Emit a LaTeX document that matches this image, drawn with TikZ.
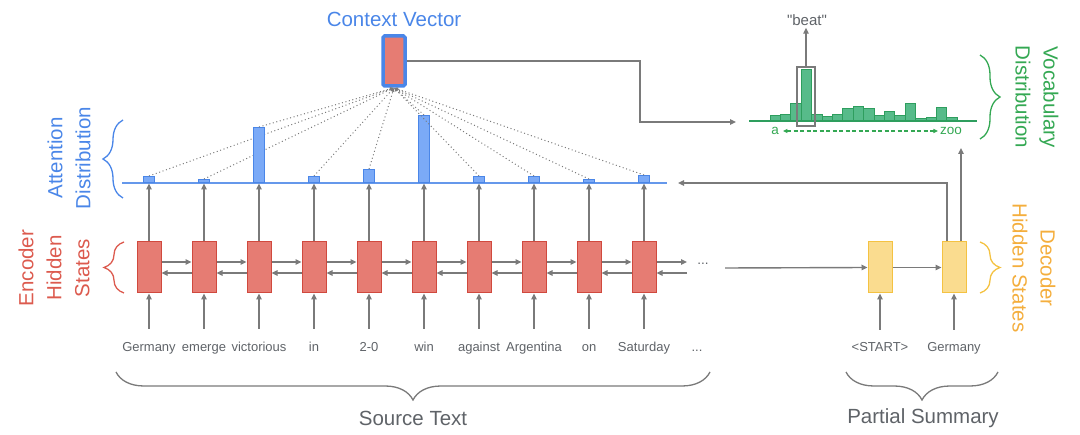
\documentclass[tikz,border=0pt]{standalone}
\usepackage{fontspec}
\setmainfont{Liberation Sans}
\newfontfamily\qfont{Liberation Sans}
\usetikzlibrary{arrows.meta,decorations.pathreplacing}
\definecolor{agray}{HTML}{7A7A7A}
\definecolor{tgray}{HTML}{5F6368}
\definecolor{redfill}{HTML}{E67C73}
\definecolor{redline}{HTML}{D0493E}
\definecolor{redtext}{HTML}{DC5A4E}
\definecolor{bluefill}{HTML}{7BAAF7}
\definecolor{blueline}{HTML}{4A86E8}
\definecolor{bluetext}{HTML}{4A86E8}
\definecolor{greenfill}{HTML}{57BB8A}
\definecolor{greenline}{HTML}{2E9E5E}
\definecolor{greentext}{HTML}{34A853}
\definecolor{yelfill}{HTML}{FADC8F}
\definecolor{yelline}{HTML}{F4C242}
\definecolor{orangetext}{HTML}{F4AE3D}
\begin{document}
\begin{tikzpicture}[x=1pt,y=-1pt,
  garrow/.style={draw=agray,line width=1.4pt,-{Triangle[length=6pt,width=5.5pt]}},
  encbox/.style={draw=redline,fill=redfill,line width=1pt,minimum width=24pt,minimum height=51pt,inner sep=0pt},
  decbox/.style={draw=yelline,fill=yelfill,line width=1pt,minimum width=24pt,minimum height=51pt,inner sep=0pt},
  attbar/.style={draw=blueline,fill=bluefill,line width=1pt,minimum width=11pt,inner sep=0pt,anchor=south},
  word/.style={text=tgray,font=\fontsize{13}{16}\selectfont,anchor=base,inner sep=1pt},
  biglabel/.style={font=\fontsize{20.5}{28}\selectfont,align=center,inner sep=0pt},
  dotline/.style={draw=agray,line width=1pt,dash pattern=on 1pt off 2.6pt,-{Latex[length=4pt,width=3.5pt]}},
  bracedec/.style={decorate,decoration={brace,amplitude=#1},line width=1.3pt},
]
\useasboundingbox (0,0) rectangle (1080,435);

% attention line
\draw[blueline!85,line width=1.3pt] (122,183) -- (667,183);

% encoder
\foreach \w [count=\i from 0] in {Germany,emerge,victorious,in,2-0,win,against,Argentina,on,Saturday}{
  \node[encbox] (e\i) at (149+55*\i,267.5) {};
  \node[word] (w\i) at (149+55*\i,352) {\w};
  \coordinate (in\i) at (149+55*\i,329);
  \draw[garrow] (in\i) -- (e\i.south);
}
\foreach \i [evaluate=\i as \j using int(\i+1)] in {0,...,8}{
  \draw[garrow] ([yshift=5.5pt]e\i.east) -- ([yshift=5.5pt]e\j.west);
  \draw[garrow] ([yshift=-5.5pt]e\j.west) -- ([yshift=-5.5pt]e\i.east);
}
\coordinate (eo) at (687,267.5);
\draw[garrow] ([yshift=5.5pt]e9.east) -- ([yshift=5.5pt]eo);
\draw[garrow] ([yshift=-5.5pt]eo) -- ([yshift=-5.5pt]e9.east);
\node[text=tgray,font=\fontsize{13.5}{15}\selectfont] (dotsA) at (703,264) {...};
\node[word] (dotsB) at (697,352) {...};

% attention bars
\foreach \h [count=\i from 0] in {6,3,55,6,13,67,6,6,3,7}{
  \draw[garrow] (e\i.north) -- (149+55*\i,183.5);
}
\node[encbox,draw=blueline,line width=3.5pt,minimum width=22pt,minimum height=50pt,rounded corners=1.5pt] (ctx) at (394,61) {};
\foreach \h [count=\i from 0] in {6,3,55,6,13,67,6,6,3,7}{
  \node[attbar,minimum height=\h pt] (a\i) at (149+55*\i,183) {};
  \draw[dotline] (a\i.north) -- (ctx.south);
}
\node[biglabel,text=bluetext] (ctxl) at (394,19) {Context Vector};

% context to vocab
\coordinate (vin) at (736,122);
\draw[garrow] (ctx.east) -| (640,122) -- (vin);

% vocab distribution
\foreach \t [count=\k from 0] in {116,115,104,70,115,117,115,109,107,109,116,112,116,104,119,118,108,118}{
  \draw[draw=greenline,fill=greenfill,line width=1pt] (770+10.4*\k,121) rectangle (780.4+10.4*\k,\t);
}
\draw[greenline,line width=1.3pt] (749,121) -- (977,121);
\node[draw=agray,line width=1.2pt,minimum width=18pt,minimum height=59pt,inner sep=0pt] (beatbox) at (806,96.5) {};
\node[text=tgray,font=\qfont\fontsize{15}{17}\selectfont,inner sep=2pt] (beat) at (807,20) {"beat"};
\draw[garrow] (beatbox.north) -- (beat.south -| beatbox.north);
\node[text=greentext,font=\fontsize{13.5}{15}\selectfont,inner sep=1pt] (va) at (775,131) {a};
\node[text=greentext,font=\fontsize{13.5}{15}\selectfont,inner sep=1pt] (vz) at (951,131) {zoo};
\draw[greentext,line width=1.2pt,dash pattern=on 4pt off 2.5pt,{Triangle[length=4.5pt,width=4pt]}-{Triangle[length=4.5pt,width=4pt]}] ([xshift=3pt]va.east) -- ([xshift=-1pt]vz.west);
\node[biglabel,text=greentext,rotate=-90] (vlab) at (1037,97) {Vocabulary\\Distribution};
\draw[greentext,bracedec=20pt] (980,55) -- (980,139);

% decoder
\node[decbox] (d0) at (880,267.5) {};
\node[decbox] (d1) at (954,267.5) {};
\node[word] (s0) at (880,352) {<START>};
\node[word] (s1) at (954,352) {Germany};
\coordinate (sin0) at (880,330);
\coordinate (sin1) at (954,330);
\draw[garrow] (sin0) -- (d0.south);
\draw[garrow] (sin1) -- (d1.south);
\coordinate (encend) at (725,268);
\draw[garrow] (encend) -- (d0.west);
\draw[garrow] (d0.east) -- (d1.west);
\coordinate (attend) at (678,183);
\draw[garrow] ([xshift=-7pt]d1.north) |- (attend);
\coordinate (vocin) at (961,148);
\draw[garrow] ([xshift=7pt]d1.north) -- (vocin);
\draw[yelline,bracedec=20pt] (980,242) -- (980,293);
\node[biglabel,text=orangetext,rotate=-90] (dlab) at (1034,268) {Decoder\\Hidden States};

% left labels
\draw[blueline,bracedec=20pt] (123,198) -- (123,120);
\node[biglabel,text=bluetext,rotate=90] (alab) at (69,158) {Attention\\Distribution};
\draw[redtext,bracedec=20pt] (124,293) -- (124,242);
\node[biglabel,text=redtext,rotate=90] (elab) at (54,268) {Encoder\\Hidden\\States};

% bottom braces
\draw[agray,bracedec=28pt] (710,372) -- (116,372);
\node[biglabel,text=tgray] (src) at (413,418) {Source Text};
\draw[agray,bracedec=28pt] (998,372) -- (846,372);
\node[biglabel,text=tgray] (ps) at (923,418) {Partial Summary};
\end{tikzpicture}
\end{document}
